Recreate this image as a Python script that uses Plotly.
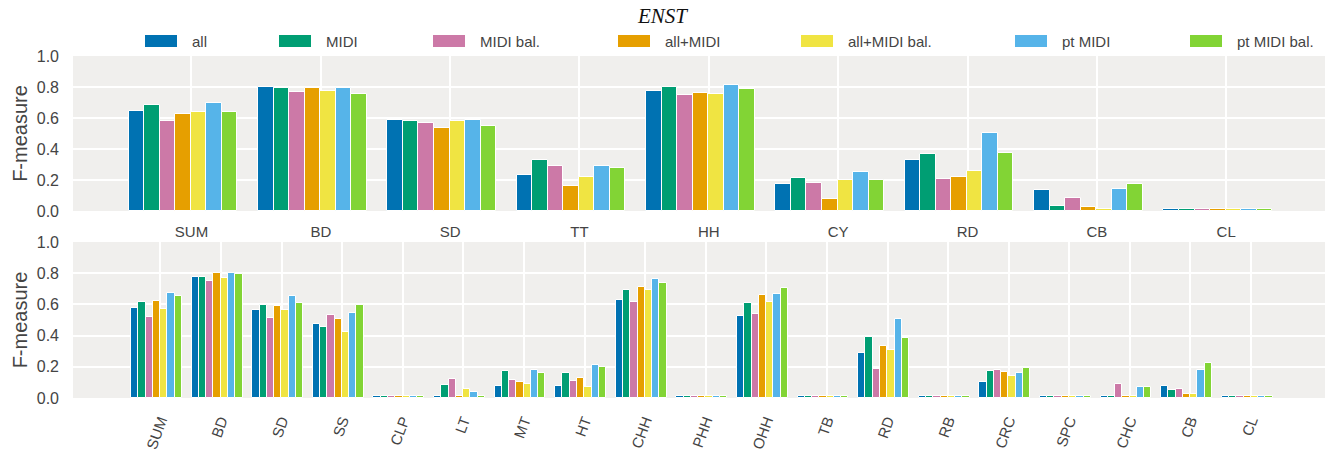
import plotly.graph_objects as go

# Methods (one bar per method within each instrument class)
series = ["all", "MIDI", "MIDI bal.", "all+MIDI", "all+MIDI bal.", "pt MIDI", "pt MIDI bal."]
colors = ["#0072b2", "#009e73", "#cc79a7", "#e69f00", "#f0e442", "#56b4e9", "#82d435"]

# Upper panel: coarse instrument classes
top_classes = ["SUM", "BD", "SD", "TT", "HH", "CY", "RD", "CB", "CL"]
top_all = [0.643, 0.798, 0.585, 0.230, 0.772, 0.172, 0.327, 0.133, 0.013]
top_midi = [0.682, 0.791, 0.578, 0.327, 0.798, 0.211, 0.366, 0.030, 0.013]
top_midi_bal = [0.578, 0.766, 0.566, 0.288, 0.746, 0.178, 0.204, 0.082, 0.013]
top_all_midi = [0.624, 0.791, 0.533, 0.159, 0.759, 0.075, 0.217, 0.024, 0.013]
top_all_midi_bal = [0.637, 0.772, 0.578, 0.217, 0.753, 0.198, 0.256, 0.013, 0.013]
top_pt_midi = [0.695, 0.791, 0.585, 0.288, 0.811, 0.249, 0.501, 0.140, 0.013]
top_pt_midi_bal = [0.637, 0.753, 0.546, 0.275, 0.785, 0.198, 0.372, 0.172, 0.013]

# Lower panel: fine instrument classes
bottom_classes = ["SUM", "BD", "SD", "SS", "CLP", "LT", "MT", "HT", "CHH", "PHH",
                  "OHH", "TB", "RD", "RB", "CRC", "SPC", "CHC", "CB", "CL"]
bot_all = [0.577, 0.777, 0.564, 0.474, 0.013, 0.013, 0.075, 0.075, 0.629, 0.013,
           0.526, 0.013, 0.288, 0.013, 0.101, 0.013, 0.013, 0.075, 0.013]
bot_midi = [0.616, 0.777, 0.597, 0.455, 0.013, 0.082, 0.172, 0.159, 0.693, 0.013,
            0.609, 0.013, 0.391, 0.013, 0.172, 0.013, 0.013, 0.049, 0.013]
bot_midi_bal = [0.519, 0.751, 0.513, 0.532, 0.013, 0.120, 0.114, 0.107, 0.616, 0.013,
                0.539, 0.013, 0.185, 0.013, 0.178, 0.013, 0.088, 0.056, 0.013]
bot_all_midi = [0.622, 0.803, 0.590, 0.506, 0.013, 0.013, 0.101, 0.127, 0.712, 0.013,
                0.661, 0.013, 0.333, 0.013, 0.165, 0.013, 0.013, 0.024, 0.013]
bot_all_midi_bal = [0.571, 0.770, 0.564, 0.423, 0.013, 0.056, 0.088, 0.069, 0.693, 0.013,
                    0.616, 0.013, 0.307, 0.013, 0.139, 0.013, 0.013, 0.024, 0.013]
bot_pt_midi = [0.674, 0.803, 0.655, 0.545, 0.013, 0.036, 0.178, 0.210, 0.764, 0.013,
               0.667, 0.013, 0.506, 0.013, 0.159, 0.013, 0.069, 0.178, 0.013]
bot_pt_midi_bal = [0.655, 0.796, 0.609, 0.597, 0.013, 0.013, 0.159, 0.197, 0.738, 0.013,
                   0.706, 0.013, 0.384, 0.013, 0.191, 0.013, 0.069, 0.223, 0.013]

top_values = [top_all, top_midi, top_midi_bal, top_all_midi, top_all_midi_bal,
              top_pt_midi, top_pt_midi_bal]
bottom_values = [bot_all, bot_midi, bot_midi_bal, bot_all_midi, bot_all_midi_bal,
                 bot_pt_midi, bot_pt_midi_bal]

W, H = 1325, 450
BAR_W = 0.12
BAR_START = -0.485
TEXT = "#444444"
FONT = "Liberation Sans, Arial, sans-serif"

fig = go.Figure()
for i, (name, color) in enumerate(zip(series, colors)):
    common = dict(name=name, marker=dict(color=color, line=dict(color="white", width=1)),
                  width=BAR_W, offset=BAR_START + i * BAR_W, showlegend=False,
                  hovertemplate="%{x}: %{y:.3f}<extra>" + name + "</extra>")
    fig.add_trace(go.Bar(x=top_classes, y=top_values[i], xaxis="x", yaxis="y", **common))
    fig.add_trace(go.Bar(x=bottom_classes, y=bottom_values[i], xaxis="x2", yaxis="y2", **common))

x_dom = [73 / W, 1.0]
axis_common = dict(showgrid=True, gridcolor="white", gridwidth=2, zeroline=False,
                   showline=False, ticks="", automargin=False)
cat_font = dict(size=15, color=TEXT, family=FONT)
val_font = dict(size=16, color=TEXT, family=FONT)
fig.update_layout(
    width=W, height=H,
    margin=dict(l=0, r=0, t=0, b=0, autoexpand=False),
    paper_bgcolor="white", plot_bgcolor="#f0efed",
    barmode="overlay", bargap=0,
    font=dict(family=FONT, color=TEXT),
    xaxis=dict(domain=x_dom, anchor="y", type="category", categoryarray=top_classes,
               categoryorder="array", range=[-0.916, 8.764], ticklabelstandoff=10,
               tickfont=cat_font, **axis_common),
    yaxis=dict(domain=[1 - 211 / H, 1 - 56 / H], anchor="x", range=[0, 1], dtick=0.2,
               tickformat=".1f", ticklabelstandoff=13, tickfont=val_font,
               title=dict(text="F-measure", font=dict(size=20, color=TEXT), standoff=3),
               **axis_common),
    xaxis2=dict(domain=x_dom, anchor="y2", type="category", categoryarray=bottom_classes,
                categoryorder="array", range=[-1.443, 19.22], tickangle=-70,
                ticklabelstandoff=10, tickfont=cat_font, **axis_common),
    yaxis2=dict(domain=[1 - 398 / H, 1 - 242 / H], anchor="x2", range=[0, 1], dtick=0.2,
                tickformat=".1f", ticklabelstandoff=13, tickfont=val_font,
                title=dict(text="F-measure", font=dict(size=20, color=TEXT), standoff=3),
                **axis_common),
)

# Title
fig.add_annotation(text="<i>ENST</i>", x=0.5, y=1 - 16 / H, xref="paper", yref="paper",
                   xanchor="center", yanchor="middle", showarrow=False,
                   font=dict(family="Liberation Serif, Times New Roman, serif", size=21,
                             color="#111111"))

# Legend row: colour swatch followed by the method name
legend_x = [145, 279, 433, 618, 801, 1015, 1190]
for name, color, px in zip(series, colors, legend_x):
    fig.add_shape(type="rect", xref="paper", yref="paper",
                  x0=px / W, x1=(px + 32) / W, y0=1 - 47 / H, y1=1 - 35 / H,
                  fillcolor=color, line=dict(width=0))
    fig.add_annotation(text=name, x=(px + 45) / W, y=1 - 41 / H, xref="paper", yref="paper",
                       xanchor="left", yanchor="middle", showarrow=False,
                       font=dict(size=15, color=TEXT, family=FONT))

fig.write_html("out.html")
